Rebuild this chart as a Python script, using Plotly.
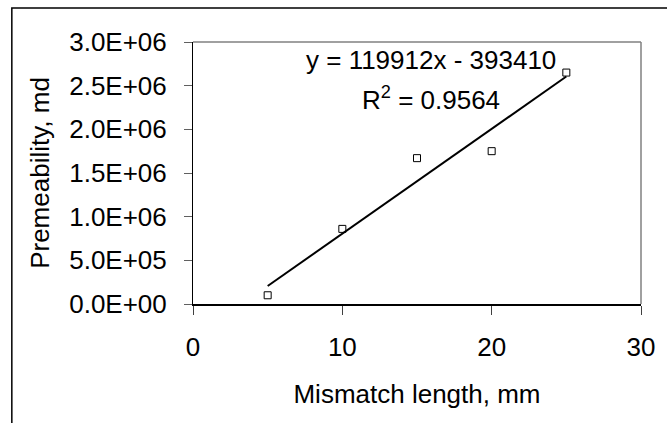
import plotly.graph_objects as go

mismatch_mm = [5, 10, 15, 20, 25]
permeability_md = [1.0e5, 8.6e5, 1.67e6, 1.75e6, 2.65e6]
trend_slope = 119912
trend_intercept = -393410
equation_text = "y = 119912x - 393410"
r2_text = "R<sup>2</sup> = 0.9564"
y_tick_vals = [0, 5e5, 1e6, 1.5e6, 2e6, 2.5e6, 3e6]
y_tick_text = ["0.0E+00", "5.0E+05", "1.0E+06", "1.5E+06", "2.0E+06", "2.5E+06", "3.0E+06"]
x_tick_vals = [0, 10, 20, 30]
x_tick_text = ["0", "10", "20", "30"]

trend_x = [mismatch_mm[0], mismatch_mm[-1]]
trend_y = [trend_slope * v + trend_intercept for v in trend_x]

FONT = "Liberation Sans, Arial, sans-serif"
FS = 26

fig = go.Figure()
fig.add_trace(go.Scatter(x=trend_x, y=trend_y, mode="lines",
                         line=dict(color="black", width=2), hoverinfo="skip"))
fig.add_trace(go.Scatter(x=mismatch_mm, y=permeability_md, mode="markers",
                         marker=dict(symbol="square-open", size=7, color="black",
                                     line=dict(width=1, color="black"))))

fig.update_layout(
    width=667, height=423,
    margin=dict(l=193, r=19, t=42, b=119),
    paper_bgcolor="white", plot_bgcolor="white",
    showlegend=False,
    font=dict(family=FONT, size=FS, color="black"),
    xaxis=dict(range=[0, 30], tickvals=x_tick_vals, ticktext=x_tick_text,
               showgrid=False, zeroline=False, showline=True, linecolor="black", linewidth=2,
               ticks="outside", ticklen=9, tickcolor="#404040", tickwidth=1,
               ticklabelstandoff=10, tickfont=dict(size=FS),
               title=dict(text="Mismatch length, mm", standoff=24,
                          font=dict(size=FS, family=FONT, color="black"))),
    yaxis=dict(range=[0, 3e6], tickvals=y_tick_vals, ticktext=y_tick_text,
               showgrid=False, zeroline=False, showline=True, linecolor="black", linewidth=1,
               ticks="outside", ticklen=8, tickcolor="#606060", tickwidth=1,
               ticklabelstandoff=12, tickfont=dict(size=FS),
               title=dict(text="Premeability, md", standoff=12,
                          font=dict(size=FS, family=FONT, color="black"))),
    shapes=[
        dict(type="line", xref="paper", yref="paper", x0=0, x1=1, y0=1, y1=1,
             line=dict(color="#808080", width=1.5)),
        dict(type="line", xref="paper", yref="paper", x0=1, x1=1, y0=0, y1=1,
             line=dict(color="#808080", width=1.5)),
        dict(type="rect", xref="paper", yref="paper", x0=(9 - 193) / 455, x1=1.6,
             y0=-1.0, y1=(304 - 8) / 262, line=dict(color="black", width=1.5)),
    ],
    annotations=[
        dict(text=equation_text, xref="paper", yref="paper", x=(435 - 193) / 455,
             y=(304 - 60) / 262, showarrow=False, xanchor="center", yanchor="middle"),
        dict(text=r2_text, xref="paper", yref="paper", x=(435 - 193) / 455,
             y=(304 - 98) / 262, showarrow=False, xanchor="center", yanchor="middle"),
    ],
)

fig.write_html("out.html", config={"displayModeBar": False},
               post_script="document.body.style.margin='0';document.body.style.overflow='hidden';")
